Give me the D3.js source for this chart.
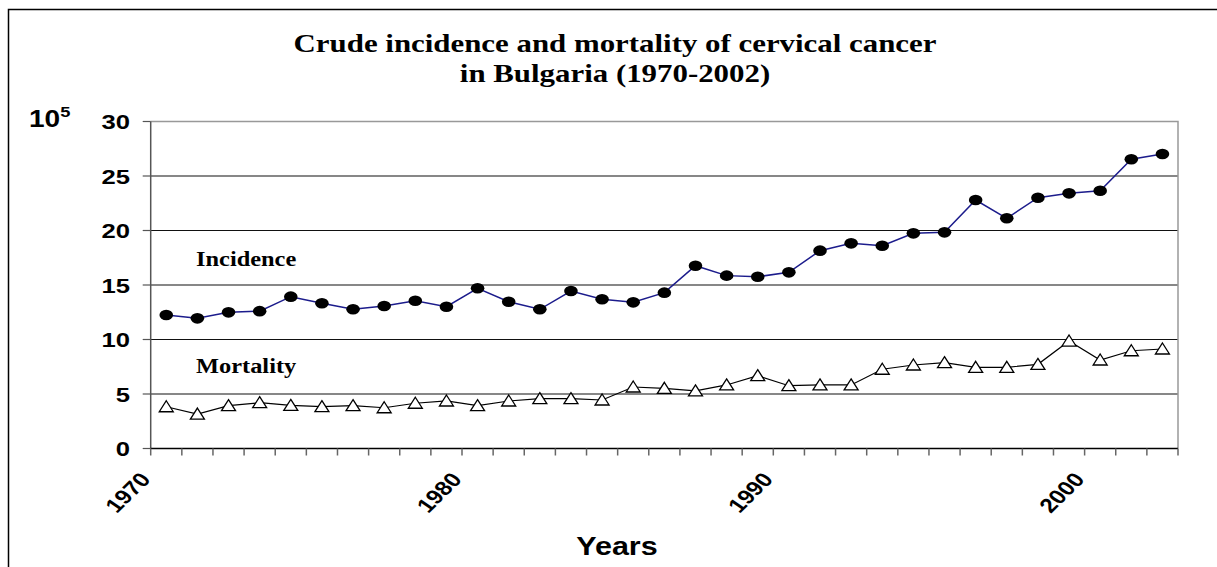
<!DOCTYPE html>
<html>
<head>
<meta charset="utf-8">
<script src="https://cdn.jsdelivr.net/npm/d3@7"></script>
<style>
  body { margin: 0; background: #fff; }
  svg { display: block; }
</style>
</head>
<body>
<svg id="chart"></svg>
<script>
var width = 1217;
var height = 567;

var years = d3.range(1970, 2003);
var incidence = [12.25, 11.94, 12.49, 12.6, 13.93, 13.32, 12.77, 13.07, 13.56, 13.01,
  14.7, 13.47, 12.77, 14.45, 13.69, 13.41, 14.3, 16.77, 15.86, 15.76,
  16.16, 18.15, 18.82, 18.6, 19.74, 19.83, 22.8, 21.12, 23.01, 23.41,
  23.65, 26.53, 27.02];
var mortality = [3.83, 3.16, 3.93, 4.2, 3.96, 3.84, 3.93, 3.74, 4.15, 4.36,
  3.93, 4.36, 4.57, 4.57, 4.45, 5.64, 5.52, 5.28, 5.83, 6.68,
  5.76, 5.83, 5.83, 7.27, 7.66, 7.87, 7.45, 7.45, 7.72, 9.86,
  8.12, 8.97, 9.13];
var yTicks = [0, 5, 10, 15, 20, 25, 30];
var xLabels = [1970, 1980, 1990, 2000];

// the picture is stretched sideways a bit, text too
var sx = 1.22;

var plotLeft = 150.7, plotRight = 1178, plotTop = 121.5, plotBottom = 448.5;

var svg = d3.select('#chart')
  .attr("width", width)
  .attr("height", height);

// outer frame
svg.append("rect")
  .attr("x", 8.5)
  .attr("y", 9.5)
  .attr("width", 1400)
  .attr("height", 800)
  .attr("fill", "none")
  .attr("stroke", "black")
  .attr("stroke-width", 1.5);

var x = d3.scaleBand()
  .domain(years)
  .range([plotLeft, plotRight]);

var y = d3.scaleLinear()
  .domain([0, 30])
  .range([plotBottom, plotTop]);

function cx(d) { return x(d) + x.bandwidth() / 2; }

function label(txt, px, py, size, family, anchor, extra) {
  return svg.append("text")
    .attr("transform", "translate(" + px + "," + py + ") scale(" + sx + ",1)" + (extra || ""))
    .attr("text-anchor", anchor || "start")
    .style("font-family", family)
    .style("font-weight", "bold")
    .style("font-size", size + "px")
    .text(txt);
}

var sans = "'Liberation Sans', Arial, sans-serif";
var serif = "'Liberation Serif', 'Times New Roman', serif";

// gridlines
svg.selectAll(".grid")
  .data(yTicks.filter(function(d) { return d > 0 && d < 30; }))
  .enter().append("line")
  .attr("x1", plotLeft)
  .attr("x2", plotRight)
  .attr("y1", function(d) { return y(d); })
  .attr("y2", function(d) { return y(d); })
  .attr("stroke", "#111")
  .attr("stroke-width", 1.2);

// plot area border (top & right)
svg.append("polyline")
  .attr("points", plotLeft + "," + y(30) + " " + plotRight + "," + y(30) + " " + plotRight + "," + y(0))
  .attr("fill", "none")
  .attr("stroke", "#999")
  .attr("stroke-width", 1.5);

// y axis
svg.append("line")
  .attr("x1", plotLeft).attr("x2", plotLeft)
  .attr("y1", y(30)).attr("y2", y(0))
  .attr("stroke", "#555")
  .attr("stroke-width", 1.5);

svg.selectAll(".ytick")
  .data(yTicks)
  .enter().append("line")
  .attr("x1", plotLeft - 8).attr("x2", plotLeft)
  .attr("y1", function(d) { return y(d); })
  .attr("y2", function(d) { return y(d); })
  .attr("stroke", "#555")
  .attr("stroke-width", 1.2);

yTicks.forEach(function(d) {
  label(d, 130, y(d) + 7.5, 21, sans, "end");
});

// x axis
svg.append("line")
  .attr("x1", plotLeft).attr("x2", plotRight)
  .attr("y1", y(0)).attr("y2", y(0))
  .attr("stroke", "black")
  .attr("stroke-width", 1.5);

svg.selectAll(".xtick")
  .data(years.concat([null]))
  .enter().append("line")
  .attr("x1", function(d) { return d === null ? plotRight : x(d); })
  .attr("x2", function(d) { return d === null ? plotRight : x(d); })
  .attr("y1", y(0))
  .attr("y2", y(0) + 7)
  .attr("stroke", "#666")
  .attr("stroke-width", 1.5);

xLabels.forEach(function(d) {
  label(d, x(d) + 1, 480, 20, sans, "end", " rotate(-50)");
});

// title
label("Crude incidence and mortality of cervical cancer", 615, 51.5, 25.3, serif, "middle");
label("in Bulgaria (1970-2002)", 615, 81.5, 25.3, serif, "middle");

// unit
var unit = label("10", 29, 127, 23, sans, "start");
unit.append("tspan")
  .attr("dy", -10)
  .style("font-size", "15px")
  .text("5");

// axis title
label("Years", 617, 555, 25, sans, "middle");

// series labels
label("Incidence", 196, 265.5, 20, serif, "start");
label("Mortality", 196, 373, 20, serif, "start");

// lines
var line = d3.line()
  .x(function(d, i) { return cx(years[i]); })
  .y(function(d) { return y(d); });

svg.append("path")
  .datum(incidence)
  .attr("d", line)
  .attr("fill", "none")
  .attr("stroke", "#1c1c8c")
  .attr("stroke-width", 1.5);

svg.append("path")
  .datum(mortality)
  .attr("d", line)
  .attr("fill", "none")
  .attr("stroke", "black")
  .attr("stroke-width", 1.2);

// markers
svg.selectAll(".inc")
  .data(incidence)
  .enter().append("ellipse")
  .attr("cx", function(d, i) { return cx(years[i]); })
  .attr("cy", function(d) { return y(d); })
  .attr("rx", 6.8)
  .attr("ry", 5.3)
  .attr("fill", "black");

svg.selectAll(".mort")
  .data(mortality)
  .enter().append("path")
  .attr("transform", function(d, i) { return "translate(" + cx(years[i]) + "," + y(d) + ")"; })
  .attr("d", "M0,-6L7,5L-7,5Z")
  .attr("fill", "white")
  .attr("stroke", "black")
  .attr("stroke-width", 1.3);
</script>
</body>
</html>
